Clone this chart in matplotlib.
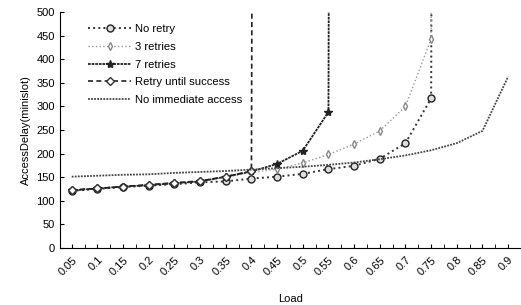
import matplotlib.pyplot as plt

# valori (off-scale = 20000, linia iese vertical din grafic)
load = [0.05, 0.1, 0.15, 0.2, 0.25, 0.3, 0.35, 0.4, 0.45, 0.5, 0.55, 0.6,
        0.65, 0.7, 0.75, 0.8, 0.85, 0.9]
no_retry = [121, 125, 129, 132, 135, 139, 141, 147, 151, 157, 167, 174,
            189, 222, 317, 20000]
retries_3 = [122, 126, 130, 133, 137, 141, 150, 160, 167, 180, 198, 220,
             248, 300, 443, 20000]
retries_7 = [122, 126, 130, 133, 137, 141, 151, 162, 178, 206, 288, 20000]
retry_until = [123, 126, 130, 134, 138, 142, 151, 163, 20000]
no_immediate = [151, 153, 155, 156, 159, 161, 163, 166, 169, 172, 176, 181,
                188, 196, 207, 222, 248, 363]
ticks = [0.05, 0.1, 0.15, 0.2, 0.25, 0.3, 0.35, 0.4, 0.45, 0.5, 0.55, 0.6,
         0.65, 0.7, 0.75, 0.8, 0.85, 0.9]
tick_labels = ['0.05', '0.1', '0.15', '0.2', '0.25', '0.3', '0.35', '0.4', '0.45',
               '0.5', '0.55', '0.6', '0.65', '0.7', '0.75', '0.8', '0.85', '0.9']

plt.rcParams['font.family'] = ['Liberation Sans', 'DejaVu Sans']

fig = plt.figure(figsize=(5.21, 3.05), dpi=100)
ax = fig.add_axes([0.115, 0.187, 0.885, 0.774])

ax.plot(load[:len(no_retry)], no_retry, color='#333333', linestyle=':', linewidth=1.4,
        marker='o', markersize=5, markerfacecolor='#dddddd', markeredgecolor='#222222',
        markeredgewidth=1.0, label='No retry')
ax.plot(load[:len(retries_3)], retries_3, color='#999999', linestyle=':', linewidth=1.0,
        marker='d', markersize=4, markerfacecolor='white', markeredgecolor='#888888',
        label='3 retries')
ax.plot(load[:len(retries_7)], retries_7, color='#222222', linestyle=(0, (1.5, 0.5)), linewidth=1.3,
        marker='*', markersize=6, label='7 retries')
ax.plot(load[:len(retry_until)], retry_until, color='#222222', linestyle=(0, (3, 2)), linewidth=1.2,
        marker='D', markersize=4, markerfacecolor='white', markeredgecolor='#333333',
        label='Retry until success')
ax.plot(load, no_immediate, color='#444444', linestyle=(0, (1, 0.7)), linewidth=1.3,
        label='No immediate access')

ax.set_xlim(0.027, 0.925)
ax.set_ylim(0, 500)
ax.set_yticks(range(0, 501, 50))
ax.set_xticks(ticks)
ax.set_xticklabels(tick_labels, rotation=45, ha='right', rotation_mode='anchor', fontsize=8)
ax.set_xticks([t + 0.025 for t in ticks], minor=True)
ax.tick_params(axis='y', labelsize=8, direction='in', length=3)
ax.tick_params(axis='x', which='both', direction='in', length=3, pad=5)
for s in ['top', 'right']:
    ax.spines[s].set_visible(False)

ax.set_xlabel('Load', fontsize=8, labelpad=12)
ax.set_ylabel('AccessDelay(minislot)', fontsize=8)

ax.legend(loc='upper left', bbox_to_anchor=(0.04, 0.99), frameon=False, fontsize=8.1,
          handlelength=3.8, labelspacing=0.68, handletextpad=0.3)

fig.savefig('out.png', dpi=100)
